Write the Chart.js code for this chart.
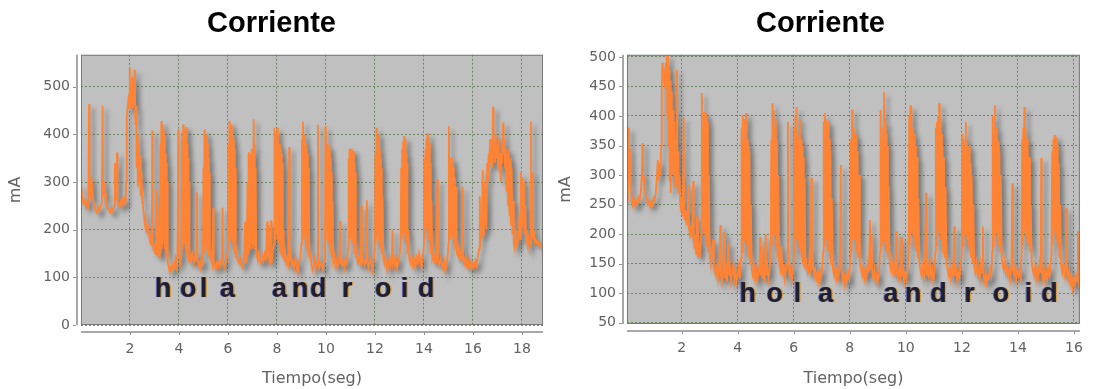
<!DOCTYPE html>
<html>
<head>
<meta charset="utf-8">
<script src="https://cdn.jsdelivr.net/npm/chart.js@4/dist/chart.umd.min.js"></script>
<style>
  html, body { margin: 0; padding: 0; background: #ffffff; }
  #wrap { position: relative; width: 1099px; height: 389px; overflow: hidden; }
  canvas { position: absolute; top: 0; }
</style>
</head>
<body>
<div id="wrap">
  <canvas id="izq" width="550" height="389" style="left:0px"></canvas>
  <canvas id="der" width="549" height="389" style="left:550px"></canvas>
</div>
<script>
// Current draw (mA) over time (s) while typing "hola android", two runs.
const puntosIzq = [
[0.00,295],[0.05,270],[0.10,255],[0.15,262],[0.20,248],[0.25,258],[0.30,250],[0.33,463],[0.35,265],[0.40,270],
[0.43,310],[0.46,285],[0.50,262],[0.55,250],[0.60,240],[0.65,235],[0.70,246],[0.75,238],[0.80,250],[0.85,255],
[0.88,460],[0.90,270],[0.94,300],[0.98,275],[1.02,258],[1.06,250],[1.10,245],[1.15,240],[1.20,236],[1.25,245],
[1.30,238],[1.35,250],[1.38,340],[1.40,262],[1.44,270],[1.47,362],[1.49,262],[1.53,255],[1.58,248],[1.62,258],
[1.66,250],[1.70,262],[1.74,255],[1.78,265],[1.82,258],
[1.85,300],[1.87,440],[1.90,455],[1.93,470],[1.96,455],[1.99,541],[2.01,470],[2.04,462],[2.07,480],[2.09,520],
[2.11,455],[2.14,490],[2.17,460],[2.20,535],[2.22,420],[2.25,460],[2.27,330],[2.30,400],[2.32,290],[2.35,380],
[2.38,300],[2.41,355],[2.44,270],[2.47,320],[2.50,260],[2.53,250],[2.56,235],[2.60,215],[2.63,225],[2.66,200],
[2.70,205],[2.73,190],[2.76,200],[2.80,180],[2.83,185],[2.86,170],[2.89,175],[2.91,408],[2.93,180],[2.96,160],
[3.00,165],[3.03,150],[3.06,160],[3.10,284],[3.12,150],[3.15,145],[3.18,160],
[3.20,250],[3.22,140],[3.24,380],[3.26,150],[3.28,428],[3.30,160],[3.32,420],[3.34,170],[3.36,410],[3.38,180],
[3.40,400],[3.42,160],[3.44,360],[3.46,150],[3.48,340],[3.50,140],[3.52,300],[3.54,130],[3.57,125],[3.62,111],
[3.66,120],[3.70,115],[3.74,125],[3.78,118],[3.82,130],[3.86,140],[3.90,125],[3.94,150],[3.97,410],[3.99,160],
[4.02,140],[4.06,130],[4.10,150],[4.13,390],[4.15,160],[4.17,421],[4.19,170],[4.21,410],[4.23,180],[4.25,400],
[4.27,160],[4.29,415],[4.31,150],[4.33,380],[4.35,140],[4.37,350],[4.39,135],[4.41,300],[4.43,130],[4.46,145],
[4.50,135],[4.54,150],[4.58,140],[4.62,130],[4.66,145],[4.70,135],[4.73,278],[4.75,140],[4.79,125],[4.83,130],
[4.87,120],[4.91,135],[4.95,125],
[4.98,150],[5.00,330],[5.02,150],[5.04,410],[5.06,170],[5.08,395],[5.10,175],[5.12,400],[5.14,160],[5.16,380],
[5.18,150],[5.20,350],[5.22,145],[5.24,320],[5.26,140],[5.29,150],[5.32,135],[5.36,125],[5.40,246],[5.42,130],
[5.46,125],[5.50,118],[5.55,130],[5.60,122],[5.65,135],[5.70,125],[5.75,140],[5.78,246],[5.80,135],[5.85,120],
[5.90,128],[5.95,140],
[6.00,160],[6.02,380],[6.04,170],[6.06,428],[6.08,180],[6.10,410],[6.12,200],[6.14,420],[6.16,180],[6.18,400],
[6.20,170],[6.22,390],[6.24,160],[6.26,370],[6.28,150],[6.30,330],[6.32,140],[6.35,150],[6.40,135],[6.45,130],
[6.50,140],[6.55,125],[6.60,120],[6.65,135],[6.70,217],[6.72,130],[6.76,150],
[6.80,300],[6.82,150],[6.84,363],[6.86,170],[6.88,355],[6.90,160],[6.92,360],[6.94,180],[6.96,370],[6.98,170],
[7.00,350],[7.02,160],[7.05,432],[7.07,170],[7.09,380],[7.11,160],[7.13,330],[7.15,150],[7.18,145],[7.22,135],
[7.26,150],[7.30,140],[7.35,130],[7.40,145],[7.45,135],[7.50,150],[7.55,140],[7.60,217],[7.62,150],[7.66,210],
[7.68,140],[7.72,125],[7.76,220],[7.78,130],[7.82,150],
[7.88,170],[7.90,414],[7.92,180],[7.94,390],[7.96,200],[7.98,405],[8.00,190],[8.02,414],[8.04,180],[8.06,371],
[8.08,170],[8.10,380],[8.12,160],[8.14,371],[8.16,150],[8.18,360],[8.20,145],[8.22,340],[8.24,140],[8.27,200],
[8.30,135],[8.34,150],[8.38,130],[8.42,140],[8.46,130],[8.50,373],[8.52,140],[8.56,150],[8.60,125],[8.65,135],
[8.70,120],[8.75,140],[8.80,125],[8.85,110],[8.90,130],[8.95,140],
[9.00,170],[9.02,390],[9.04,180],[9.06,427],[9.08,190],[9.10,380],[9.12,200],[9.14,400],[9.16,180],[9.18,380],
[9.20,170],[9.22,370],[9.24,160],[9.26,360],[9.28,150],[9.30,330],[9.32,140],[9.35,150],[9.40,130],[9.45,115],
[9.50,125],[9.55,140],[9.60,120],[9.64,130],[9.67,420],[9.69,135],[9.73,120],[9.78,130],[9.83,125],[9.88,115],
[9.92,135],
[9.96,160],[9.98,417],[10.00,180],[10.02,375],[10.04,200],[10.06,380],[10.08,180],[10.10,375],[10.12,170],[10.14,370],
[10.16,160],[10.18,350],[10.20,150],[10.22,320],[10.24,140],[10.27,260],[10.30,135],[10.34,145],[10.38,125],[10.42,135],
[10.46,120],[10.50,130],[10.55,140],[10.58,218],[10.60,130],[10.65,125],[10.70,135],[10.75,120],[10.80,140],[10.85,130],
[10.90,160],[10.92,350],[10.94,170],[10.96,370],[10.98,180],[11.00,365],[11.02,190],[11.04,370],[11.06,180],[11.08,360],
[11.10,170],[11.12,365],[11.14,160],[11.16,340],[11.18,150],[11.20,320],[11.22,140],[11.25,150],[11.30,130],[11.35,140],
[11.40,125],[11.45,250],[11.47,130],[11.52,140],[11.58,125],[11.63,135],[11.67,262],[11.69,130],[11.74,120],[11.80,140],
[11.85,130],[11.90,115],[11.95,135],
[12.00,160],[12.02,360],[12.04,170],[12.06,414],[12.08,190],[12.10,360],[12.12,200],[12.14,400],[12.16,180],[12.18,370],
[12.20,170],[12.22,350],[12.24,160],[12.26,330],[12.28,150],[12.31,270],[12.34,140],[12.38,130],[12.42,145],[12.46,125],
[12.50,113],[12.55,130],[12.60,140],[12.64,125],[12.68,135],[12.72,200],[12.74,130],[12.78,140],[12.82,125],[12.86,135],
[12.90,120],[12.95,130],[13.00,145],
[13.05,170],[13.07,330],[13.09,180],[13.11,370],[13.13,190],[13.15,385],[13.17,200],[13.19,396],[13.21,190],[13.23,390],
[13.25,180],[13.27,360],[13.29,170],[13.31,340],[13.33,150],[13.36,200],[13.40,140],[13.45,130],[13.50,145],[13.55,125],
[13.60,135],[13.65,120],[13.70,140],[13.75,130],[13.80,150],[13.85,135],[13.90,120],[13.95,140],
[14.00,170],[14.02,350],[14.04,180],[14.06,370],[14.08,200],[14.10,390],[14.12,210],[14.14,403],[14.16,200],[14.18,395],
[14.20,180],[14.22,380],[14.24,170],[14.26,340],[14.28,150],[14.31,260],[14.34,140],[14.38,150],[14.42,135],[14.46,145],
[14.50,130],[14.55,305],[14.57,135],[14.62,125],[14.67,140],[14.72,130],[14.77,120],[14.82,135],[14.87,113],[14.92,125],
[14.96,140],
[15.00,170],[15.02,417],[15.04,180],[15.06,351],[15.08,190],[15.10,340],[15.12,200],[15.14,351],[15.16,190],[15.18,345],
[15.20,180],[15.22,330],[15.24,170],[15.26,310],[15.28,160],[15.31,290],[15.34,150],[15.38,145],[15.42,160],[15.46,140],
[15.50,150],[15.54,135],[15.58,290],[15.60,140],[15.65,130],[15.70,145],[15.75,125],[15.80,135],[15.85,120],[15.90,130],
[15.95,118],[16.00,128],[16.05,122],[16.10,135],[16.15,125],[16.20,145],
[16.25,160],[16.28,270],[16.30,165],[16.33,230],[16.36,180],[16.40,325],[16.42,190],[16.45,300],[16.48,210],[16.52,260],
[16.55,200],[16.58,340],[16.61,300],[16.64,360],[16.67,330],[16.70,390],[16.73,340],[16.76,370],[16.79,330],[16.82,458],
[16.84,350],[16.87,380],[16.90,340],[16.93,400],[16.96,350],[16.99,380],[17.02,330],[17.05,390],[17.08,320],[17.11,360],
[17.14,300],[17.17,380],[17.20,340],[17.23,425],[17.25,360],[17.28,390],[17.31,330],[17.34,370],[17.37,280],[17.40,360],
[17.43,250],[17.46,370],[17.49,230],[17.52,350],[17.55,210],[17.58,330],[17.61,190],[17.64,260],[17.67,170],[17.70,162],
[17.73,200],[17.76,165],[17.79,180],[17.82,170],[17.86,190],[17.90,230],[17.93,180],[17.96,320],[17.99,200],[18.02,310],
[18.05,210],[18.08,300],[18.11,190],[18.14,250],[18.17,175],[18.20,200],[18.23,170],[18.26,180],[18.30,160],[18.33,170],
[18.37,427],[18.39,190],[18.42,320],[18.45,180],[18.48,200],[18.52,175],[18.56,180],[18.60,172],[18.65,175],[18.70,168],
[18.75,170],[18.80,162],[18.86,165]
];

const puntosDer = [
[0.05,255],[0.08,300],[0.10,380],[0.12,290],[0.15,345],[0.18,280],[0.22,265],[0.26,250],[0.30,258],[0.34,248],
[0.38,255],[0.42,250],[0.46,262],[0.50,258],[0.54,270],[0.58,300],[0.60,354],[0.62,290],[0.65,300],[0.68,275],
[0.72,265],[0.76,258],[0.80,250],[0.84,256],[0.88,248],[0.92,255],[0.96,250],[1.00,262],[1.04,258],[1.08,270],
[1.12,300],[1.15,325],[1.18,290],[1.21,320],[1.24,300],[1.27,350],[1.29,440],[1.31,490],[1.33,470],[1.35,480],
[1.37,455],[1.39,470],[1.41,450],[1.43,490],[1.45,460],[1.47,503],[1.49,400],[1.51,503],[1.53,350],[1.55,480],
[1.57,290],[1.59,460],[1.61,270],[1.63,440],[1.65,300],[1.67,400],[1.69,330],[1.71,410],[1.73,300],[1.75,390],
[1.77,280],[1.79,360],[1.81,300],[1.83,478],[1.85,290],[1.87,340],[1.89,270],[1.92,300],[1.95,250],[1.98,240],
[2.01,260],[2.04,230],[2.07,398],[2.09,240],[2.12,225],[2.15,240],[2.18,215],[2.21,230],[2.24,283],[2.26,210],
[2.29,200],[2.32,215],[2.35,195],[2.38,210],[2.41,290],[2.43,190],[2.46,175],[2.49,200],[2.52,165],[2.55,230],
[2.58,160],[2.62,180],[2.66,170],[2.70,200],
[2.72,439],[2.74,250],[2.76,380],[2.78,210],[2.80,407],[2.82,200],[2.84,405],[2.86,190],[2.88,400],[2.90,180],
[2.92,390],[2.94,170],[2.97,300],[3.00,160],[3.04,148],[3.08,170],[3.12,191],[3.15,150],[3.18,140],[3.22,130],
[3.26,145],[3.30,125],[3.34,140],[3.38,215],[3.40,130],[3.44,120],[3.48,140],[3.52,203],[3.54,125],[3.58,140],
[3.62,120],[3.66,185],[3.68,130],[3.72,145],[3.76,120],[3.80,135],[3.84,150],[3.88,125],[3.92,140],[3.96,120],
[4.00,130],[4.04,145],[4.08,125],
[4.12,160],[4.14,380],[4.16,170],[4.18,402],[4.20,190],[4.22,360],[4.24,200],[4.26,395],[4.28,190],[4.30,405],
[4.32,180],[4.34,360],[4.36,170],[4.38,350],[4.40,160],[4.42,340],[4.44,150],[4.47,250],[4.50,140],[4.54,130],
[4.58,145],[4.62,125],[4.66,140],[4.70,120],[4.74,135],[4.78,145],[4.80,195],[4.82,130],[4.86,180],[4.88,125],
[4.92,140],[4.96,118],[5.00,200],[5.02,130],[5.06,145],[5.10,125],[5.14,140],
[5.18,170],[5.20,360],[5.22,180],[5.24,422],[5.26,200],[5.28,410],[5.30,210],[5.32,380],[5.34,200],[5.36,395],
[5.38,180],[5.40,360],[5.42,160],[5.45,300],[5.48,150],[5.52,140],[5.56,180],[5.60,130],[5.64,150],[5.68,125],
[5.72,140],[5.76,150],[5.79,390],[5.81,150],[5.85,130],[5.89,140],[5.93,120],[5.97,135],
[6.00,160],[6.02,380],[6.04,170],[6.06,400],[6.08,190],[6.10,415],[6.12,200],[6.14,370],[6.16,190],[6.18,360],
[6.20,180],[6.22,395],[6.24,170],[6.26,360],[6.28,160],[6.30,350],[6.32,150],[6.34,330],[6.36,145],[6.39,295],
[6.42,140],[6.46,150],[6.50,135],[6.54,145],[6.58,175],[6.60,130],[6.63,295],[6.65,140],[6.69,150],[6.73,130],
[6.77,140],[6.81,125],[6.85,135],[6.89,120],[6.93,138],[6.97,125],[7.01,140],
[7.05,170],[7.07,390],[7.09,180],[7.11,405],[7.13,200],[7.15,395],[7.17,190],[7.19,380],[7.21,180],[7.23,390],
[7.25,170],[7.27,360],[7.29,160],[7.31,340],[7.33,150],[7.36,260],[7.40,140],[7.44,130],[7.48,145],[7.52,125],
[7.56,140],[7.60,130],[7.64,150],[7.68,317],[7.70,140],[7.74,125],[7.78,135],[7.82,115],[7.86,130],[7.90,120],
[7.94,135],[7.98,125],
[8.02,160],[8.04,360],[8.06,170],[8.08,411],[8.10,190],[8.12,380],[8.14,200],[8.16,360],[8.18,190],[8.20,370],
[8.22,180],[8.24,365],[8.26,170],[8.28,340],[8.30,160],[8.33,300],[8.36,150],[8.40,140],[8.44,130],[8.48,145],
[8.52,125],[8.56,140],[8.60,130],[8.64,150],[8.68,135],[8.72,224],[8.74,140],[8.78,200],[8.80,135],[8.84,125],
[8.88,140],[8.92,120],[8.96,130],[9.00,118],[9.04,135],
[9.08,170],[9.10,410],[9.12,180],[9.14,380],[9.16,200],[9.18,360],[9.20,190],[9.22,440],[9.24,200],[9.26,390],
[9.28,180],[9.30,370],[9.32,170],[9.34,350],[9.36,160],[9.39,280],[9.42,150],[9.46,140],[9.50,155],[9.54,135],
[9.58,145],[9.62,130],[9.66,205],[9.68,135],[9.72,125],[9.76,140],[9.80,130],[9.84,195],[9.86,128],[9.90,140],
[9.94,120],[9.98,135],[10.02,125],[10.06,140],
[10.10,170],[10.12,400],[10.14,180],[10.16,418],[10.18,200],[10.20,415],[10.22,210],[10.24,380],[10.26,200],[10.28,360],
[10.30,190],[10.32,370],[10.34,180],[10.36,350],[10.38,170],[10.40,330],[10.42,160],[10.45,260],[10.48,150],[10.52,140],
[10.56,130],[10.60,145],[10.64,125],[10.68,140],[10.72,270],[10.74,130],[10.78,145],[10.82,125],[10.86,160],[10.90,130],
[10.94,140],[10.98,120],[11.02,135],
[11.05,170],[11.07,380],[11.09,180],[11.11,390],[11.13,200],[11.15,400],[11.17,210],[11.19,422],[11.21,200],[11.23,395],
[11.25,190],[11.27,370],[11.29,180],[11.31,350],[11.33,170],[11.36,330],[11.39,160],[11.42,280],[11.45,150],[11.49,140],
[11.53,130],[11.57,145],[11.61,125],[11.65,140],[11.69,130],[11.73,213],[11.75,130],[11.79,140],[11.83,120],[11.87,135],
[11.91,125],[11.95,140],
[12.00,170],[12.02,370],[12.04,180],[12.06,360],[12.08,200],[12.10,350],[12.12,210],[12.14,390],[12.16,200],[12.18,360],
[12.20,190],[12.22,340],[12.24,180],[12.26,350],[12.28,170],[12.30,320],[12.32,160],[12.35,300],[12.38,150],[12.41,250],
[12.44,145],[12.48,135],[12.52,150],[12.56,130],[12.60,140],[12.64,125],[12.68,150],[12.72,135],[12.75,213],[12.77,130],
[12.81,120],[12.85,135],[12.89,118],[12.93,130],[12.97,125],[13.01,140],[13.05,130],
[13.08,170],[13.10,400],[13.12,180],[13.14,370],[13.16,200],[13.18,418],[13.20,210],[13.22,380],[13.24,200],[13.26,360],
[13.28,190],[13.30,355],[13.32,180],[13.34,340],[13.36,170],[13.39,300],[13.42,160],[13.45,150],[13.49,140],[13.53,155],
[13.57,135],[13.61,145],[13.65,130],[13.69,140],[13.73,125],[13.77,150],[13.80,286],[13.82,140],[13.86,130],[13.90,145],
[13.94,125],[13.98,140],[14.02,130],[14.06,135],[14.10,125],
[14.13,170],[14.15,360],[14.17,180],[14.19,380],[14.21,200],[14.23,415],[14.25,210],[14.27,380],[14.29,200],[14.31,365],
[14.33,190],[14.35,360],[14.37,180],[14.40,330],[14.43,170],[14.46,250],[14.49,150],[14.53,140],[14.57,130],[14.61,145],
[14.65,125],[14.69,140],[14.73,130],[14.77,150],[14.81,135],[14.83,329],[14.85,140],[14.89,125],[14.93,140],[14.97,120],
[15.01,135],[15.05,125],[15.09,140],[15.13,130],[15.17,150],
[15.20,170],[15.22,340],[15.24,180],[15.26,360],[15.28,200],[15.30,368],[15.32,210],[15.34,360],[15.36,200],[15.38,365],
[15.40,190],[15.42,350],[15.44,180],[15.46,320],[15.48,160],[15.51,250],[15.54,145],[15.58,135],[15.62,150],[15.66,130],
[15.70,140],[15.73,244],[15.75,135],[15.79,125],[15.83,140],[15.87,118],[15.91,130],[15.95,110],[15.99,125],[16.03,115],
[16.07,130],[16.11,120],[16.14,205],[16.17,115],[16.20,108]
];

// Axis ticks
const ticksXIzq = [2, 4, 6, 8, 10, 12, 14, 16, 18];
const ticksYIzq = [0, 100, 200, 300, 400, 500];
const ticksXDer = [2, 4, 6, 8, 10, 12, 14, 16];
const ticksYDer = [50, 100, 150, 200, 250, 300, 350, 400, 450, 500];

// Typed letters, placed at the time each key was pressed
const letrasIzq = [['h',3.02],['o',4.04],['l',4.86],['a',5.67],['a',7.80],['n',8.61],['d',9.35],['r',10.65],['o',12.0],['i',13.06],['d',13.76]];
const letrasDer = [['h',4.06],['o',5.03],['l',6.0],['a',6.87],['a',9.2],['n',9.97],['d',10.87],['r',12.08],['o',13.1],['i',14.24],['d',14.83]];

const GRIS_TEXTO = '#626262';

const marco = {
  id: 'marco',
  beforeDraw(chart) {
    const { ctx, chartArea: a } = chart;
    ctx.save();
    ctx.fillStyle = '#c0c0c0';
    ctx.fillRect(a.left, a.top, a.right - a.left, a.bottom - a.top);
    ctx.restore();
  },
  beforeDatasetsDraw(chart) {
    const ctx = chart.ctx;
    ctx.save();
    ctx.shadowColor = 'rgba(60,60,60,0.5)';
    ctx.shadowOffsetX = 4;
    ctx.shadowOffsetY = 4;
    ctx.shadowBlur = 4;
  },
  afterDatasetsDraw(chart) {
    chart.ctx.restore();
  },
  afterDraw(chart, args, opts) {
    const { ctx, chartArea: a, scales: { x, y } } = chart;
    ctx.save();
    // plot outline
    ctx.strokeStyle = '#777777';
    ctx.lineWidth = 1;
    ctx.strokeRect(a.left + 0.5, a.top + 0.5, a.right - a.left - 1, a.bottom - a.top - 1);
    // detached axis lines
    const ya = a.bottom + 7, xa = a.left - 4;
    ctx.strokeStyle = '#a8a8a8';
    ctx.lineWidth = 2;
    ctx.beginPath(); ctx.moveTo(a.left, ya); ctx.lineTo(a.right, ya); ctx.stroke();
    ctx.beginPath(); ctx.moveTo(xa, a.top); ctx.lineTo(xa, a.bottom); ctx.stroke();
    ctx.lineWidth = 1;
    ctx.strokeStyle = '#909090';
    x.ticks.forEach(t => {
      const px = Math.round(x.getPixelForValue(t.value)) + 0.5;
      ctx.beginPath(); ctx.moveTo(px, ya); ctx.lineTo(px, ya + 3); ctx.stroke();
    });
    y.ticks.forEach(t => {
      const py = Math.round(y.getPixelForValue(t.value)) + 0.5;
      ctx.beginPath(); ctx.moveTo(xa - 4, py); ctx.lineTo(xa - 1, py); ctx.stroke();
    });
    // typed text overlay
    ctx.font = 'bold 27px "Liberation Sans", Arial, sans-serif';
    ctx.textBaseline = 'alphabetic';
    ctx.textAlign = 'left';
    const by = y.getPixelForValue(opts.base);
    opts.letras.forEach(([c, t]) => {
      const px = x.getPixelForValue(t);
      ctx.fillStyle = 'rgba(214,150,50,0.85)';
      ctx.fillText(c, px + 1.3, by);
      ctx.fillStyle = 'rgba(70,70,170,0.7)';
      ctx.fillText(c, px - 0.9, by);
      ctx.fillStyle = '#1f1f2e';
      ctx.fillText(c, px, by);
    });
    ctx.restore();
  }
};

function crearGrafico(id, puntos, ticksX, ticksY, rx, ry, anchoY, altoX, padDer, letras, base) {
  return new Chart(document.getElementById(id), {
    type: 'line',
    data: {
      datasets: [{
        data: puntos.map(([t, v]) => ({ x: t, y: v })),
        borderColor: 'rgb(255,131,52)',
        borderWidth: 1.8,
        pointRadius: 0,
        tension: 0,
        fill: false
      }]
    },
    options: {
      responsive: false,
      animation: false,
      events: [],
      layout: { padding: { left: 0, right: padDer, top: 0, bottom: 0 } },
      plugins: {
        legend: { display: false },
        tooltip: { enabled: false },
        title: {
          display: true,
          text: 'Corriente',
          color: '#000000',
          font: { family: '"Liberation Sans", Arial, sans-serif', size: 29, weight: 'bold' },
          padding: { top: 7, bottom: 13 }
        },
        marco: { letras: letras, base: base }
      },
      scales: {
        x: {
          type: 'linear',
          min: rx[0], max: rx[1],
          afterBuildTicks: s => { s.ticks = ticksX.map(v => ({ value: v })); },
          afterFit: s => { s.height = altoX; },
          grid: { color: 'rgba(100,128,88,0.9)', lineWidth: 1, drawTicks: false },
          border: { display: false, dash: [2, 2] },
          ticks: {
            color: GRIS_TEXTO, padding: 16, maxRotation: 0, autoSkip: false,
            font: { family: '"DejaVu Sans", sans-serif', size: 14 }
          },
          title: {
            display: true, text: 'Tiempo(seg)', color: GRIS_TEXTO,
            font: { family: '"DejaVu Sans", sans-serif', size: 16 },
            padding: { top: 0, bottom: 1 }
          }
        },
        y: {
          type: 'linear',
          min: ry[0], max: ry[1],
          afterBuildTicks: s => { s.ticks = ticksY.map(v => ({ value: v })); },
          afterFit: s => { s.width = anchoY; },
          grid: { color: 'rgba(100,128,88,0.9)', lineWidth: 1, drawTicks: false },
          border: { display: false, dash: [2, 2] },
          ticks: {
            color: GRIS_TEXTO, padding: 11,
            font: { family: '"DejaVu Sans", sans-serif', size: 14 }
          },
          title: {
            display: true, text: 'mA', color: GRIS_TEXTO,
            font: { family: '"DejaVu Sans", sans-serif', size: 16 },
            padding: { top: 6, bottom: 0 }
          }
        }
      }
    },
    plugins: [marco]
  });
}

crearGrafico('izq', puntosIzq, ticksXIzq, ticksYIzq, [0, 18.86], [0, 567], 81, 64, 7, letrasIzq, 59);
crearGrafico('der', puntosDer, ticksXDer, ticksYDer, [0.05, 16.21], [48, 503.5], 77, 65, 8, letrasDer, 85);
</script>
</body>
</html>
